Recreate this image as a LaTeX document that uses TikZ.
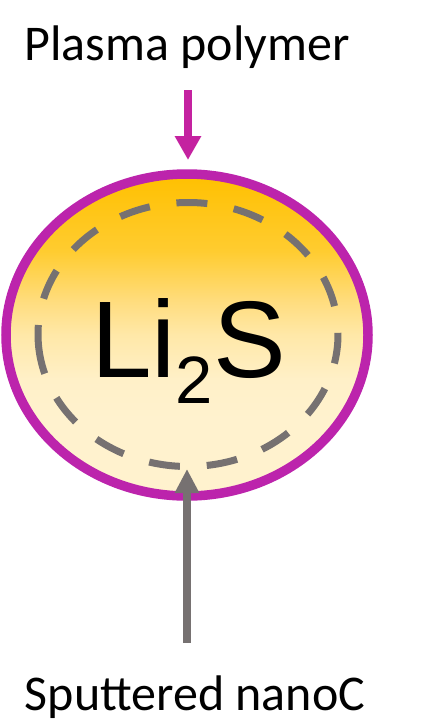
\documentclass[tikz,border=0pt]{standalone}
\usepackage{fontspec}
\setmainfont{Carlito}
\newfontfamily\arialf{Liberation Sans}
\usetikzlibrary{shapes.geometric,arrows.meta}
\definecolor{ringmag}{RGB}{188,36,172}
\definecolor{arrmag}{RGB}{196,34,160}
\definecolor{cgray}{RGB}{118,113,113}
\definecolor{corange}{RGB}{255,192,0}
\definecolor{cg1}{HTML}{FFCC30}
\definecolor{cg2}{HTML}{FFDD80}
\definecolor{cg3}{HTML}{FFE8A8}
\definecolor{cg4}{HTML}{FFF0C8}
\definecolor{ccream}{RGB}{255,242,206}
\pgfdeclareverticalshading{lishade}{100bp}{color(0bp)=(ccream); color(37bp)=(ccream); color(43bp)=(cg4); color(50bp)=(cg3); color(55bp)=(cg2); color(63bp)=(cg1); color(75bp)=(corange); color(100bp)=(corange)}
\tikzset{
  lbl/.style={font=\fontsize{50}{54}\selectfont, anchor=base, inner sep=0pt},
  ring/.style={ellipse, draw=ringmag, line width=9.5pt, shading=lishade, minimum width=362pt, minimum height=322pt, inner sep=0pt},
  dashline/.style={draw=cgray, line width=7pt, dash pattern=on 31pt off 26.9pt},
  magarrow/.style={draw=arrmag, line width=8pt, -{Triangle[length=24pt,width=25pt]}},
  grayarrow/.style={draw=cgray, line width=8pt, -{Triangle[length=24pt,width=23pt]}}
}
\begin{document}
\begin{tikzpicture}[x=1pt,y=-1pt]
\useasboundingbox (0,0) rectangle (434,728);
\node[lbl] (pp) at (187,60) {Plasma polymer};
\node[lbl] (sn) at (195,710) {Sputtered nanoC};
\node[ring] (outer) at (187,335) {};
\coordinate (inner) at (188,334.5);
\draw[dashline] (inner) ++(176.14:150 and 132) arc[start angle=176.14, end angle=-183.86, x radius=150, y radius=132];
\node[anchor=base, inner sep=0pt, font=\arialf\fontsize{109}{120}\selectfont] (li) at (188.5,377) {Li\raisebox{-26pt}{\fontsize{67}{70}\selectfont 2}S};
\coordinate (ptop) at (188,90);
\coordinate (ptip) at (188,160);
\coordinate (gbot) at (187,643);
\coordinate (gtip) at (187,469);
\draw[magarrow] (ptop) -- (ptip);
\draw[grayarrow] (gbot) -- (gtip);
\end{tikzpicture}
\end{document}
